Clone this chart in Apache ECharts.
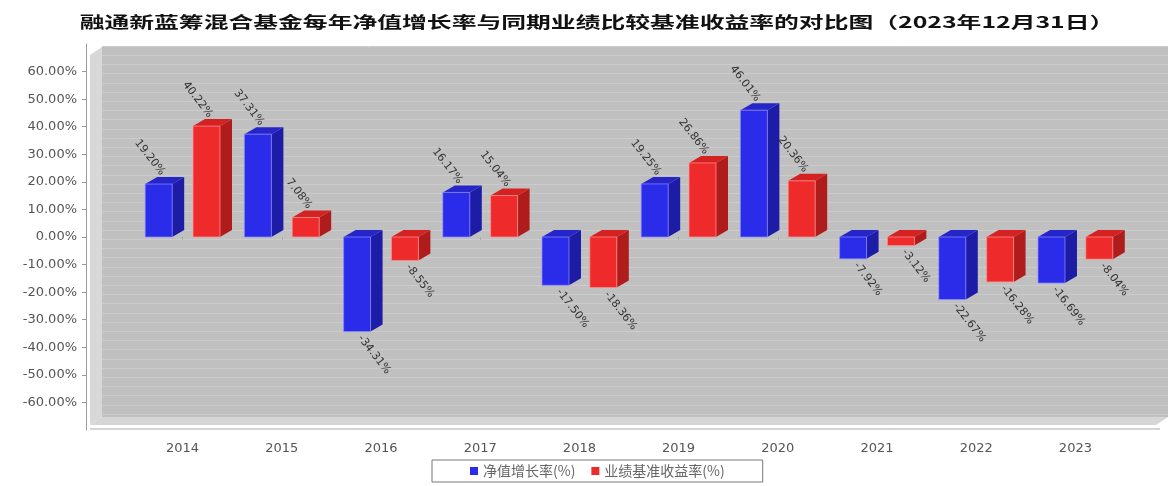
<!DOCTYPE html>
<html>
<head>
<meta charset="utf-8">
<script src="https://cdn.jsdelivr.net/npm/echarts@6/dist/echarts.min.js"></script>
<style>
html,body{margin:0;padding:0;background:#fff;}
#chart{width:1176px;height:486px;}
</style>
</head>
<body>
<div id="chart"></div>
<script>
const titleText = '融通新蓝筹混合基金每年净值增长率与同期业绩比较基准收益率的对比图（2023年12月31日）';
const years = ['2014','2015','2016','2017','2018','2019','2020','2021','2022','2023'];
const seriesNames = ['净值增长率(%)', '业绩基准收益率(%)'];
const navGrowth = [19.20, 37.31, -34.31, 16.17, -17.50, 19.25, 46.01, -7.92, -22.67, -16.69];
const benchmark = [40.22, 7.08, -8.55, 15.04, -18.36, 26.86, 20.36, -3.12, -16.28, -8.04];
const yTickValues = [-60, -50, -40, -30, -20, -10, 0, 10, 20, 30, 40, 50, 60];

const palettes = [
  {front: '#2b2bea', side: '#1c1ca6', top: '#2626c8', halo: 'rgba(140,140,255,0.9)'},
  {front: '#ee2a2a', side: '#b01c1c', top: '#d42222', halo: 'rgba(255,150,150,0.9)'}
];
const DX = 12, DY = 7;

function makeRender(si) {
  return function (params, api) {
    const i = api.value(0), v = api.value(1);
    const c0 = api.coord([i, 0]);
    const c1 = api.coord([i, v]);
    const band = api.size([1, 0])[0];
    const w = band * 0.272, gap = band * 0.21;
    const left = si === 0 ? c0[0] - gap / 2 - w : c0[0] + gap / 2;
    const yTop = Math.min(c0[1], c1[1]);
    const yBot = Math.max(c0[1], c1[1]);
    const p = palettes[si];
    const cx = left + w / 2;
    const label = v.toFixed(2) + '%';
    const text = v >= 0
      ? {type: 'text', x: cx + 4, y: c1[1] - DY - 3, rotation: -52 * Math.PI / 180, z2: 100,
         style: {text: label, fill: '#333', font: '11px "DejaVu Sans"', align: 'right', verticalAlign: 'middle'}}
      : {type: 'text', x: cx + 3, y: c1[1] + 5, rotation: -52 * Math.PI / 180, z2: 100,
         style: {text: label, fill: '#333', font: '11px "DejaVu Sans"', align: 'left', verticalAlign: 'middle'}};
    return {
      type: 'group',
      children: [
        {type: 'polygon', shape: {points: [[left + w, yTop], [left + w + DX, yTop - DY], [left + w + DX, yBot - DY], [left + w, yBot]]},
         style: {fill: p.side}},
        {type: 'polygon', shape: {points: [[left, yTop], [left + DX, yTop - DY], [left + w + DX, yTop - DY], [left + w, yTop]]},
         style: {fill: p.top}},
        {type: 'rect', shape: {x: left, y: yTop, width: w, height: yBot - yTop},
         style: {fill: p.front, stroke: p.halo, lineWidth: 0.8}},
        text
      ]
    };
  };
}

const chart = echarts.init(document.getElementById('chart'));
chart.setOption({
  animation: false,
  backgroundColor: '#ffffff',
  graphic: {
    elements: [
      {type: 'rect', z: -10, shape: {x: 102, y: 47, width: 1066, height: 370}, style: {fill: '#c0c0c0'}},
      {type: 'polygon', z: -10, shape: {points: [[90, 55], [102, 47], [102, 417], [90, 425]]}, style: {fill: '#d8d8d8'}},
      {type: 'polygon', z: -10, shape: {points: [[90, 425], [102, 417], [1168, 417], [1156, 425]]}, style: {fill: '#d6d6d6'}},
      {type: 'line', z: -10, shape: {x1: 90, y1: 429, x2: 1160, y2: 429}, style: {stroke: '#aaaaaa', lineWidth: 1}},
      {type: 'text', x: 597, y: 22, scaleX: 1.55, z: 10,
       style: {text: titleText, font: 'bold 16px "Noto Sans CJK SC"', fill: '#111', align: 'center', verticalAlign: 'middle'}}
    ]
  },
  legend: {
    data: seriesNames,
    left: 432, top: 460,
    orient: 'horizontal',
    icon: 'rect', itemWidth: 8, itemHeight: 8, itemGap: 16,
    borderColor: '#777', borderWidth: 1, borderRadius: 0,
    padding: [4, 38, 4, 38],
    textStyle: {fontSize: 14, color: '#666', fontFamily: '"Noto Sans CJK SC"'}
  },
  grid: [
    {left: 133, width: 992, top: 44, height: 386},
    {left: 102, width: 1066, top: 46, height: 368}
  ],
  xAxis: [
    {type: 'category', gridIndex: 0, data: years,
     axisLine: {show: false},
     axisTick: {show: true, alignWithLabel: true, length: 3, lineStyle: {color: '#aaa'}},
     axisLabel: {fontSize: 13, color: '#555', margin: 12, fontFamily: '"DejaVu Sans"'},
     splitLine: {show: false}},
    {type: 'value', gridIndex: 1, show: false, min: 0, max: 1}
  ],
  yAxis: [
    {type: 'value', gridIndex: 0, min: -70, max: 70, interval: 10, offset: 47,
     axisLine: {show: true, lineStyle: {color: '#999'}},
     axisTick: {show: true, length: 4, lineStyle: {color: '#999'}, customValues: yTickValues},
     axisLabel: {fontSize: 13, color: '#555', margin: 9, fontFamily: '"DejaVu Sans"',
                 customValues: yTickValues,
                 formatter: function (v) { return v.toFixed(2) + '%'; }},
     splitLine: {show: false}},
    {type: 'value', gridIndex: 1, min: -200 / 3, max: 200 / 3, interval: 10 / 3,
     axisLine: {show: false}, axisTick: {show: false}, axisLabel: {show: false},
     splitLine: {show: true, lineStyle: {color: '#cbcbcb', width: 1}}}
  ],
  series: [
    {type: 'custom', name: seriesNames[0], xAxisIndex: 0, yAxisIndex: 0, z: 3,
     itemStyle: {color: palettes[0].front},
     data: navGrowth.map(function (v, i) { return [i, v]; }),
     renderItem: makeRender(0)},
    {type: 'custom', name: seriesNames[1], xAxisIndex: 0, yAxisIndex: 0, z: 3,
     itemStyle: {color: palettes[1].front},
     data: benchmark.map(function (v, i) { return [i, v]; }),
     renderItem: makeRender(1)}
  ]
});
</script>
</body>
</html>
